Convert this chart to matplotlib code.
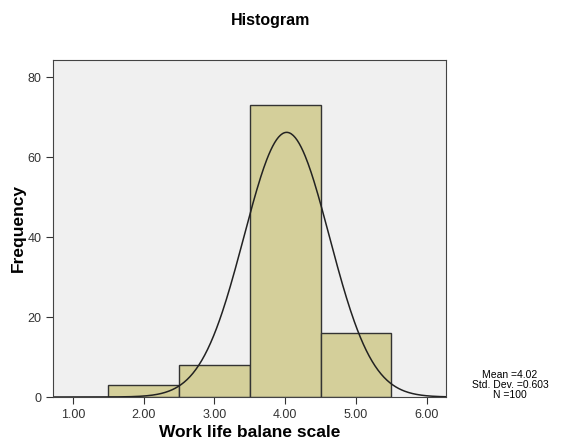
import matplotlib
matplotlib.use('Agg')
import matplotlib.pyplot as plt
import numpy as np

plt.rcParams['font.family'] = ['Liberation Sans', 'DejaVu Sans']

bin_edges = [1.5, 2.5, 3.5, 4.5, 5.5]
counts = [3, 8, 73, 16]
mean = 4.02
std = 0.603
n = 100
xticks = [1, 2, 3, 4, 5, 6]
yticks = [0, 20, 40, 60, 80]

fig = plt.figure(figsize=(5.73, 4.46), dpi=100)
ax = fig.add_axes([53/573, 49/446, 393/573, 337/446])
ax.set_facecolor('#F0F0F0')

ax.bar(bin_edges[:-1], counts, width=np.diff(bin_edges), align='edge',
       color='#D4CF9A', edgecolor='#333333', linewidth=1)

xs = np.linspace(0.72, 6.27, 400)
ys = n * 1.0 / (std * np.sqrt(2 * np.pi)) * np.exp(-0.5 * ((xs - mean) / std) ** 2)
ax.plot(xs, ys, color='#222222', linewidth=1.1)

ax.set_xlim(0.72, 6.27)
ax.set_ylim(0, 84.25)
ax.set_xticks(xticks)
ax.set_xticklabels(['%.2f' % v for v in xticks])
ax.set_yticks(yticks)
ax.tick_params(direction='out', length=5, labelsize=9, colors='#333333')
for s in ax.spines.values():
    s.set_color('#444444')

ax.set_xlabel('Work life balane scale', fontsize=12.5, fontweight='bold', labelpad=3)
ax.set_ylabel('Frequency', fontsize=12.5, fontweight='bold', labelpad=1)
fig.text(271/573, 1 - 20/446, 'Histogram', ha='center', va='center',
         fontsize=11.5, fontweight='bold')
fig.text(510/573, 1 - 385/446, 'Mean =%.2f\nStd. Dev. =%.3f\nN =%d' % (mean, std, n),
         ha='center', va='center', fontsize=7.5, linespacing=0.95)

fig.savefig('out.png', dpi=100)
